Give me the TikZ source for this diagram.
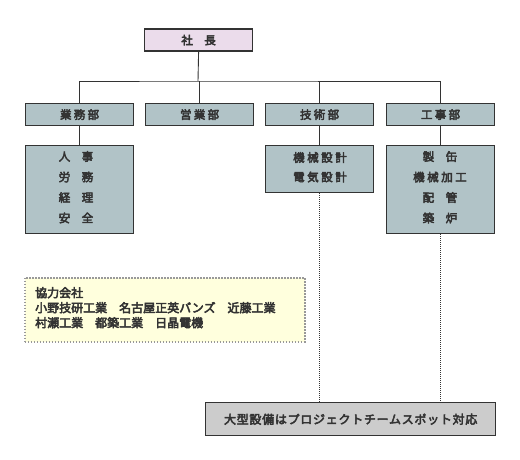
\documentclass[tikz,border=0pt]{standalone}
\usepackage{fontspec}
\setmainfont{Noto Sans CJK JP}[FakeBold=4]
\definecolor{ln}{HTML}{333333}
\definecolor{pinkf}{HTML}{EBDCEB}
\definecolor{bluef}{HTML}{B1C3C7}
\definecolor{grayf}{HTML}{CCCCCC}
\definecolor{yelf}{HTML}{FFFFDD}
\definecolor{txt}{HTML}{333333}
\tikzset{
  box/.style={draw=ln, line width=1.2pt, inner sep=0pt, anchor=north west, text=txt},
  deptbox/.style={box, fill=bluef, minimum width=108pt, minimum height=22pt, font=\fontsize{11.5}{13}\selectfont\addfontfeature{LetterSpace=20}},
  subbox/.style={box, fill=bluef, minimum width=108pt, align=center, anchor=north west},
  subtext/.style={font=\fontsize{11.5}{20.5}\selectfont, text=txt, align=center, anchor=north, inner sep=0pt},
  conn/.style={draw=ln, line width=0.9pt},
  dotconn/.style={draw=ln, line width=1.2pt, dash pattern=on 1pt off 1pt},
}
\begin{document}
\begin{tikzpicture}[x=1pt,y=-1pt]
\useasboundingbox (0,0) rectangle (520,460);
% president
\node[box, fill=pinkf, minimum width=108pt, minimum height=22pt, font=\fontsize{11.5}{13}\selectfont] (pres) at (144,28.5) {社　長};
% departments
\node[deptbox] (d1) at (25,103) {業務部};
\node[deptbox] (d2) at (145,103) {営業部};
\node[deptbox] (d3) at (265,103) {技術部};
\node[deptbox] (d4) at (386,103) {工事部};
% sub boxes
\node[subbox, minimum height=88pt] (s1) at (25,145) {};
\node[subtext] (s1t) at (76,151) {人　事\\労　務\\経　理\\安　全};
\node[subbox, minimum height=47pt] (s3) at (265,145) {};
\node[subtext, font=\fontsize{11.5}{19.5}\selectfont\addfontfeature{LetterSpace=22}] (s3t) at (320,152) {機械設計\\電気設計};
\node[subbox, minimum height=88pt] (s4) at (386,145) {};
\node[subtext] (s4t) at (440,151) {製　缶\\\addfontfeature{LetterSpace=22}機械加工\\配　管\\築　炉};
% bottom box
\node[box, fill=grayf, line width=1.4pt, minimum width=290pt, minimum height=33pt, font=\fontsize{12}{13}\selectfont\addfontfeature{LetterSpace=6}] (big) at (205,402) {大型設備はプロジェクトチームスポット対応};
% cooperative companies
\node[draw=black!40, fill=yelf, line width=1.6pt, dash pattern=on 1.5pt off 1.5pt, anchor=north west, minimum width=280pt, minimum height=64pt] (coop) at (24,277) {};
\node[anchor=north west, text=txt, align=left, inner sep=0pt, font=\fontsize{12}{15}\selectfont] (coopt) at (35,287) {協力会社\\小野技研工業　名古屋正英バンズ　近藤工業\\村瀬工業　都築工業　日晶電機};
% connectors
\coordinate (j) at (198,81);
\draw[conn] (pres.south) -- (j);
\draw[conn] (d1.north) |- (j) -| (d4.north);
\draw[conn] (d2.north) -- (d2.north |- j);
\draw[conn] (d3.north) -- (d3.north |- j);
\draw[conn] (d1.south) -- (s1.north);
\draw[conn] (d3.south) -- (s3.north);
\draw[conn] (d4.south) -- (s4.north);
\draw[dotconn] (s3.south) -- (s3.south |- big.north);
\draw[dotconn] (s4.south) -- (s4.south |- big.north);
\end{tikzpicture}
\end{document}
